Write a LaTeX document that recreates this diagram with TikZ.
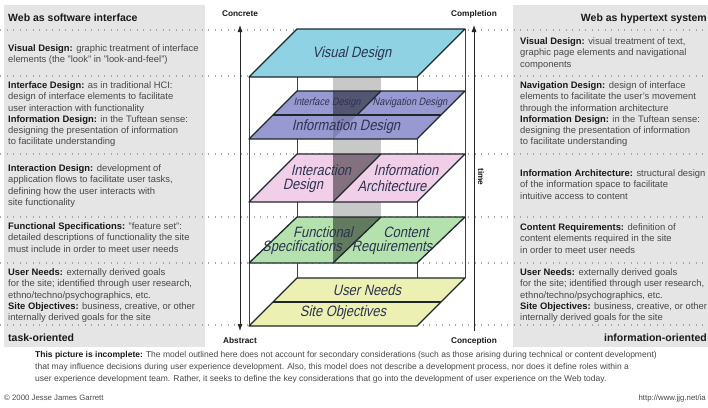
\documentclass[tikz,border=0pt]{standalone}
\usepackage{fontspec}
\setmainfont{Liberation Sans}
\newfontfamily\planefont{Liberation Sans}[FakeStretch=0.86,FakeSlant=0.22]
\usetikzlibrary{arrows.meta}
\definecolor{panelgray}{RGB}{229,229,229}
\definecolor{dotgray}{RGB}{165,165,165}
\definecolor{visblue}{RGB}{143,210,228}
\definecolor{purpblue}{RGB}{153,153,210}
\definecolor{pinkp}{RGB}{241,207,233}
\definecolor{greenp}{RGB}{180,225,174}
\definecolor{yellowp}{RGB}{236,240,178}
\definecolor{bandgray}{RGB}{200,200,200}
\definecolor{edgec}{RGB}{30,40,42}
\definecolor{ptext}{RGB}{44,52,78}
\definecolor{bodyc}{RGB}{72,72,72}
\definecolor{termc}{RGB}{25,25,25}
\newcommand\kw[1]{\textcolor{termc}{\textbf{#1}}}
\tikzset{
  sidetext/.style={anchor=north west, inner sep=0pt, align=left, text=bodyc, font=\fontsize{9.4}{11.2}\selectfont},
  sidehead/.style={inner sep=0pt, text=termc, font=\bfseries\fontsize{10.5}{12}\selectfont},
  biglabel/.style={inner sep=0pt, text=ptext, font=\planefont\fontsize{15}{16}\selectfont},
  smalllabel/.style={inner sep=0pt, text=ptext, font=\planefont\fontsize{10.7}{12}\selectfont},
  axislabel/.style={inner sep=0pt, text=termc, font=\bfseries\fontsize{8.3}{10}\selectfont},
  dotrule/.style={draw=dotgray, line width=1.3pt, dash pattern=on 1.3pt off 5.2pt},
  frameline/.style={draw=black!75, line width=0.6pt},
  planeedge/.style={draw=edgec, line width=1.3pt, line join=round},
  shadeover/.style={fill=black, fill opacity=0.45},
  axisline/.style={draw=black!85, line width=0.8pt},
  notetext/.style={inner sep=0pt, text=bodyc, font=\fontsize{8.5}{11.8}\selectfont},
  foottext/.style={inner sep=0pt, text=bodyc, font=\fontsize{7.8}{9}\selectfont}
}
\begin{document}
\begin{tikzpicture}[x=1pt,y=-1pt]
\useasboundingbox (0,0) rectangle (708,407);
\clip (0,0) rectangle (708,407);
\fill[white] (0,0) rectangle (708,407);
% side panels
\fill[panelgray] (4,5) rectangle (205,347);
\fill[panelgray] (513,5) rectangle (712,347);
% dotted rules
\foreach \yy in {30,76,154,217,263,325} \draw[dotrule] (0,\yy) -- (708,\yy);
% box frame
\draw[frameline] (249,77) -- (249,326);
\draw[frameline] (417,77) -- (417,326);
\draw[frameline] (297,29) -- (297,278);
\draw[frameline] (465,29) -- (465,278);
% vertical dividing plane
\fill[bandgray] (333,77) rectangle (381,263);
% axes
\coordinate (ltop) at (240,25);
\coordinate (lbot) at (240,331);
\coordinate (rtop) at (474,25);
\coordinate (rbot) at (474,331);
\draw[axisline, {Latex[length=7pt,width=5pt]}-{Latex[length=7pt,width=5pt]}] (lbot) -- (ltop);
\draw[axisline, -{Latex[length=7pt,width=5pt]}] (rbot) -- (rtop);
% plane fills
\fill[visblue] (297,29) -- (465,29) -- (417,77) -- (249,77) -- cycle;
\fill[purpblue] (297,91) -- (465,91) -- (417,139) -- (249,139) -- cycle;
\fill[pinkp] (297,154) -- (465,154) -- (417,202) -- (249,202) -- cycle;
\fill[greenp] (297,217) -- (465,217) -- (417,263) -- (249,263) -- cycle;
\fill[yellowp] (297,278) -- (465,278) -- (417,326) -- (249,326) -- cycle;
% dividing plane seen over the layers
\fill[shadeover] (333,91) -- (381,91) -- (357,115) -- (333,115) -- cycle;
\fill[black, fill opacity=0.15] (333,115) -- (357,115) -- (333,139) -- cycle;
\fill[shadeover] (333,154) -- (381,154) -- (333,202) -- cycle;
\fill[shadeover] (333,217) -- (381,217) -- (333,263) -- cycle;
% plane outlines
\draw[planeedge] (297,29) -- (465,29) -- (417,77) -- (249,77) -- cycle;
\draw[planeedge] (297,91) -- (465,91) -- (417,139) -- (249,139) -- cycle;
\draw[planeedge] (273,115) -- (441,115);
\draw[planeedge] (381,91) -- (357,115);
\draw[planeedge] (297,154) -- (465,154) -- (417,202) -- (249,202) -- cycle;
\draw[planeedge] (381,154) -- (333,202);
\draw[planeedge] (297,217) -- (465,217) -- (417,263) -- (249,263) -- cycle;
\draw[planeedge] (381,217) -- (333,263);
\draw[planeedge] (297,278) -- (465,278) -- (417,326) -- (249,326) -- cycle;
\draw[planeedge] (273,302) -- (441,302);
% plane labels
\node[biglabel] (vd) at (352,54) {Visual Design};
\node[smalllabel] (ifd) at (327,103) {Interface Design};
\node[smalllabel] (nvd) at (410,103) {Navigation Design};
\node[biglabel] (infd) at (346,127) {Information Design};
\node[biglabel] (ixd1) at (321,170) {Interaction};
\node[biglabel] (ixd2) at (303,186) {Design};
\node[biglabel] (ia1) at (406,170) {Information};
\node[biglabel] (ia2) at (392,186) {Architecture};
\node[biglabel] (fs1) at (323,232) {Functional};
\node[biglabel] (fs2) at (302,248) {Specifications};
\node[biglabel] (cr1) at (406,232) {Content};
\node[biglabel] (cr2) at (392,248) {Requirements};
\node[biglabel] (un) at (367,290) {User Needs};
\node[biglabel] (so) at (343,313) {Site Objectives};
% axis labels
\node[axislabel] (concrete) at (240,14) {Concrete};
\node[axislabel] (completion) at (474,14) {Completion};
\node[axislabel] (abstract) at (240,341) {Abstract};
\node[axislabel] (conception) at (474,341) {Conception};
\node[axislabel, rotate=-90] (time) at (481,177) {time};
% left panel
\node[sidehead, anchor=base west] (lhead) at (8,21) {Web as software interface};
\node[sidetext] (l1) at (8,43.7) {\strut\kw{Visual Design:} graphic treatment of interface\\elements (the "look" in "look-and-feel")};
\node[sidetext] (l2) at (8,80.7) {\strut\kw{Interface Design:} as in traditional HCI:\\design of interface elements to facilitate\\user interaction with functionality\\\kw{Information Design:} in the Tuftean sense:\\designing the presentation of information\\to facilitate understanding};
\node[sidetext] (l3) at (8,163.7) {\strut\kw{Interaction Design:} development of\\application flows to facilitate user tasks,\\defining how the user interacts with\\site functionality};
\node[sidetext] (l4) at (8,221.7) {\strut\kw{Functional Specifications:} "feature set":\\detailed descriptions of functionality the site\\must include in order to meet user needs};
\node[sidetext] (l5) at (8,267.7) {\strut\kw{User Needs:} externally derived goals\\for the site; identified through user research,\\ethno/techno/psychographics, etc.\\\kw{Site Objectives:} business, creative, or other\\internally derived goals for the site};
\node[sidehead, anchor=base west] (lfoot) at (8,341) {task-oriented};
% right panel
\node[sidehead, anchor=base east] (rhead) at (707,21) {Web as hypertext system};
\node[sidetext] (r1) at (520,36.7) {\strut\kw{Visual Design:} visual treatment of text,\\graphic page elements and navigational\\components};
\node[sidetext] (r2) at (520,80.7) {\strut\kw{Navigation Design:} design of interface\\elements to facilitate the user's movement\\through the information architecture\\\kw{Information Design:} in the Tuftean sense:\\designing the presentation of information\\to facilitate understanding};
\node[sidetext] (r3) at (520,168.7) {\strut\kw{Information Architecture:} structural design\\of the information space to facilitate\\intuitive access to content};
\node[sidetext] (r4) at (520,222.7) {\strut\kw{Content Requirements:} definition of\\content elements required in the site\\in order to meet user needs};
\node[sidetext] (r5) at (520,267.7) {\strut\kw{User Needs:} externally derived goals\\for the site; identified through user research,\\ethno/techno/psychographics, etc.\\\kw{Site Objectives:} business, creative, or other\\internally derived goals for the site};
\node[sidehead, anchor=base east] (rfoot) at (707,341) {information-oriented};
% note
\node[notetext, anchor=north west, align=left] (note) at (35,349) {\strut\kw{This picture is incomplete:} The model outlined here does not account for secondary considerations (such as those arising during technical or content development)\\that may influence decisions during user experience development. Also, this model does not describe a development process, nor does it define roles within a\\user experience development team. Rather, it seeks to define the key considerations that go into the development of user experience on the Web today.};
\node[foottext, anchor=base west] (copy) at (4,400) {© 2000 Jesse James Garrett};
\node[foottext, anchor=base east] (url) at (706,400) {http://www.jjg.net/ia};
\end{tikzpicture}
\end{document}
